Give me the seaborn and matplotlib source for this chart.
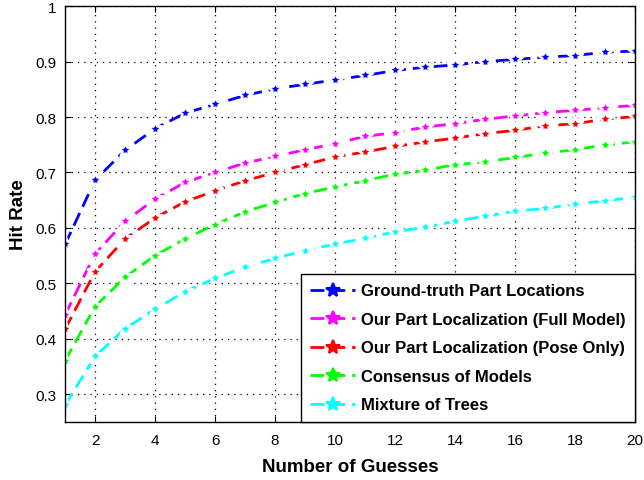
import numpy as np
import pandas as pd
import matplotlib
matplotlib.use("Agg")
import matplotlib.pyplot as plt
import seaborn as sns
from matplotlib.lines import Line2D

guesses = list(range(1, 21))
ground_truth = [0.570, 0.686, 0.740, 0.779, 0.807, 0.823, 0.839, 0.851, 0.859, 0.867,
                0.875, 0.884, 0.890, 0.894, 0.900, 0.904, 0.908, 0.911, 0.917, 0.919]
full_model = [0.443, 0.553, 0.612, 0.652, 0.682, 0.700, 0.717, 0.729, 0.741, 0.752,
              0.765, 0.772, 0.782, 0.788, 0.796, 0.802, 0.808, 0.812, 0.817, 0.821]
pose_only = [0.417, 0.521, 0.580, 0.618, 0.647, 0.667, 0.685, 0.700, 0.714, 0.728,
             0.737, 0.747, 0.755, 0.762, 0.770, 0.776, 0.784, 0.788, 0.796, 0.801]
consensus = [0.360, 0.458, 0.511, 0.550, 0.580, 0.606, 0.629, 0.646, 0.662, 0.674,
             0.685, 0.697, 0.704, 0.714, 0.719, 0.727, 0.735, 0.741, 0.750, 0.755]
mixture = [0.280, 0.368, 0.418, 0.453, 0.485, 0.509, 0.529, 0.545, 0.559, 0.571,
           0.581, 0.593, 0.601, 0.612, 0.621, 0.630, 0.635, 0.643, 0.649, 0.655]

series_names = ["Ground-truth Part Locations",
                "Our Part Localization (Full Model)",
                "Our Part Localization (Pose Only)",
                "Consensus of Models",
                "Mixture of Trees"]
series_values = [ground_truth, full_model, pose_only, consensus, mixture]
colors = ["#0000ff", "#ff00ff", "#ff0000", "#00ff00", "#00ffff"]

rows = []
for name, vals in zip(series_names, series_values):
    for g, v in zip(guesses, vals):
        rows.append({"Guesses": g, "Hit Rate": v, "Method": name})
df = pd.DataFrame(rows)

sns.set_style("white")
plt.rcParams['font.family'] = ['Liberation Sans', 'DejaVu Sans']
plt.rcParams['text.color'] = 'black'
plt.rcParams['axes.labelcolor'] = 'black'

fig = plt.figure(figsize=(6.44, 4.81), dpi=100)
ax = fig.add_axes([0.101, 0.121, 0.885, 0.864])

sns.lineplot(data=df, x="Guesses", y="Hit Rate", hue="Method", style="Method",
             hue_order=series_names, style_order=series_names, palette=colors,
             ax=ax, markers=["*"] * 5, dashes=[(5, 2.5)] * 5,
             markersize=12, markeredgewidth=2.0, linewidth=2, legend=False)

ax.set_xlim(1, 20)
ax.set_ylim(0.25, 1.0)
ax.set_xticks([2, 4, 6, 8, 10, 12, 14, 16, 18, 20])
ax.set_yticks([0.3, 0.4, 0.5, 0.6, 0.7, 0.8, 0.9, 1.0])
ax.set_yticklabels(["0.3", "0.4", "0.5", "0.6", "0.7", "0.8", "0.9", "1"])
ax.grid(True, color="black", linestyle=(0, (1, 4)), linewidth=0.9)
ax.tick_params(direction="in", length=4, labelsize=11, colors="black",
               top=True, right=True, bottom=True, left=True)
ax.tick_params(axis="x", pad=8)
ax.tick_params(axis="y", pad=6)
for s in ax.spines.values():
    s.set_color("black")
    s.set_linewidth(1)

ax.set_xlabel("Number of Guesses", fontsize=13.5, fontweight="bold", labelpad=8)
ax.set_ylabel("Hit Rate", fontsize=13.5, fontweight="bold", labelpad=6)

handles = [Line2D([0], [0], color=c, linestyle=(0, (5, 2.5)), linewidth=2,
                  marker="*", markersize=10, markeredgewidth=1.5) for c in colors]
leg = ax.legend(handles, series_names, loc="lower right", frameon=True,
                fancybox=False, edgecolor="black", framealpha=1,
                prop={"weight": "bold", "size": 12}, borderaxespad=0.0,
                handlelength=2.7, handletextpad=0.35, labelspacing=0.81,
                borderpad=0.56)
leg.get_frame().set_linewidth(1)

fig.savefig("out.png", dpi=100)
